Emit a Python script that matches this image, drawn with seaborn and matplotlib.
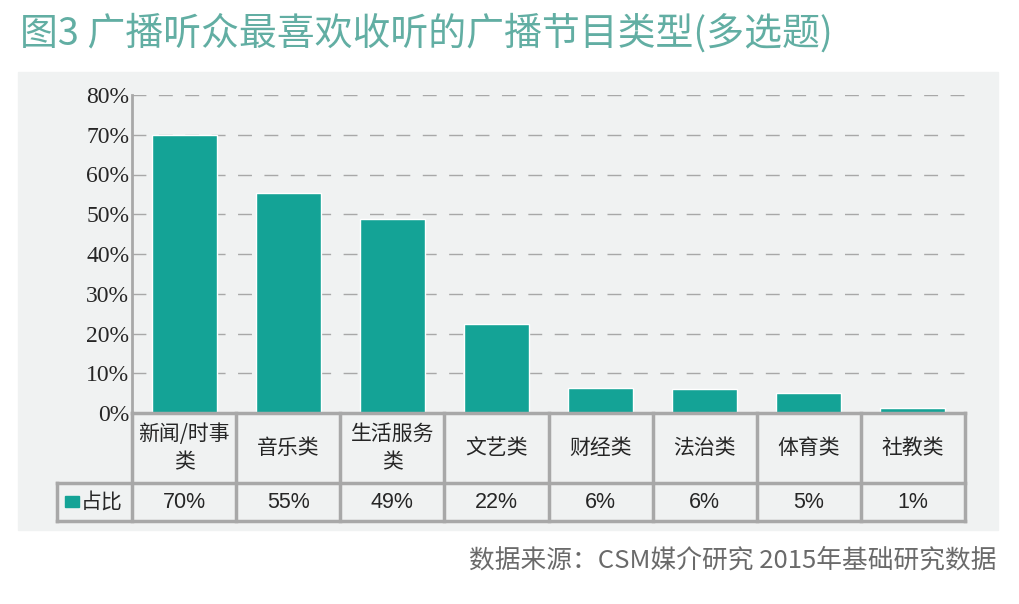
import matplotlib.pyplot as plt
import matplotlib.patches as patches
import matplotlib.transforms as mtransforms
import pandas as pd
import seaborn as sns

# Data
categories = ['新闻/时事\n类', '音乐类', '生活服务\n类', '文艺类', '财经类', '法治类', '体育类', '社教类']
shares = [69.9, 55.4, 48.7, 22.4, 6.3, 6.0, 5.0, 1.3]
share_labels = ['70%', '55%', '49%', '22%', '6%', '6%', '5%', '1%']
y_ticks = [0, 10, 20, 30, 40, 50, 60, 70, 80]
series_name = '占比'
title = '图3 广播听众最喜欢收听的广播节目类型(多选题)'
source = '数据来源：CSM媒介研究 2015年基础研究数据'

TEAL = '#14a396'
GRID = '#a8a8a8'
PANEL = '#f0f2f2'

sns.set_style('white')
plt.rcParams['font.family'] = ['Noto Sans CJK SC', 'DejaVu Sans']

W, H = 1020, 604
fig = plt.figure(figsize=(W / 100, H / 100), dpi=100)

# grey background panel
fig.patches.append(patches.Rectangle((18 / W, 1 - 530 / H), (998 - 18) / W, (530 - 72) / H,
                                     transform=fig.transFigure, color=PANEL, zorder=-10))

# plot area: y axis at x=132px, 0% at y=413px, 80% at y=95px, right end 965px
ax = fig.add_axes([132 / W, 1 - 413 / H, (965 - 132) / W, (413 - 95) / H])
ax.set_facecolor('none')

df = pd.DataFrame({'category': categories, 'share': shares})
sns.barplot(data=df, x='category', y='share', order=categories, color=TEAL,
            width=0.625, saturation=1, ax=ax, zorder=3)

ax.set_xlim(-0.5, len(categories) - 0.5)
ax.set_ylim(0, 80)
ax.set_yticks(y_ticks)
ax.set_yticklabels([f'{t}%' for t in y_ticks], fontsize=17, family='Liberation Serif')
ax.tick_params(axis='y', length=0, pad=2)
ax.set_xticks([])
ax.set_xlabel('')
ax.set_ylabel('')
for t in y_ticks[1:]:
    ax.axhline(t, color=GRID, lw=1, ls=(0, (10, 9)), zorder=1)
for s in ['top', 'right', 'bottom']:
    ax.spines[s].set_visible(False)
ax.spines['left'].set_color(GRID)
ax.spines['left'].set_linewidth(2)

# data table below the axis
trans = mtransforms.blended_transform_factory(ax.transData, ax.transAxes)
px = 1 / (413 - 95)
y0, y1, y2 = 0, -(483 - 413) * px, -(521 - 413) * px
x_left = -0.5 - (132 - 57) / ((965 - 132) / len(categories))
n = len(categories)
line_kw = dict(color=GRID, lw=2.5, transform=trans, clip_on=False, zorder=4, solid_capstyle='projecting')
ax.plot([-0.5, n - 0.5], [y0, y0], **line_kw)
ax.plot([x_left, n - 0.5], [y1, y1], **line_kw)
ax.plot([x_left, n - 0.5], [y2, y2], **line_kw)
for i in range(n + 1):
    ax.plot([i - 0.5, i - 0.5], [y0, y2], **line_kw)
ax.plot([x_left, x_left], [y1, y2], **line_kw)

for i, (cat, lab) in enumerate(zip(categories, share_labels)):
    ax.text(i, (y0 + y1) / 2, cat, transform=trans, ha='center', va='center',
            fontsize=15, linespacing=1.4, clip_on=False)
    ax.text(i, (y1 + y2) / 2, lab, transform=trans, ha='center', va='center',
            fontsize=15.5, family='Liberation Sans', clip_on=False)

# legend cell
ax.add_patch(patches.Rectangle((x_left + 0.08, (y1 + y2) / 2 - 5 * px), 0.13, 11 * px,
                               transform=trans, color=TEAL, clip_on=False))
ax.text(x_left + 0.23, (y1 + y2) / 2, series_name, transform=trans, ha='left', va='center',
        fontsize=15, clip_on=False)

fig.text(20 / W, 1 - 34 / H, title, fontsize=27.3, color='#62aea3', ha='left', va='center')
fig.text(997 / W, 1 - 561 / H, source, fontsize=18.5, color='#6a6a6a', ha='right', va='center')

fig.savefig('out.png', dpi=100)
